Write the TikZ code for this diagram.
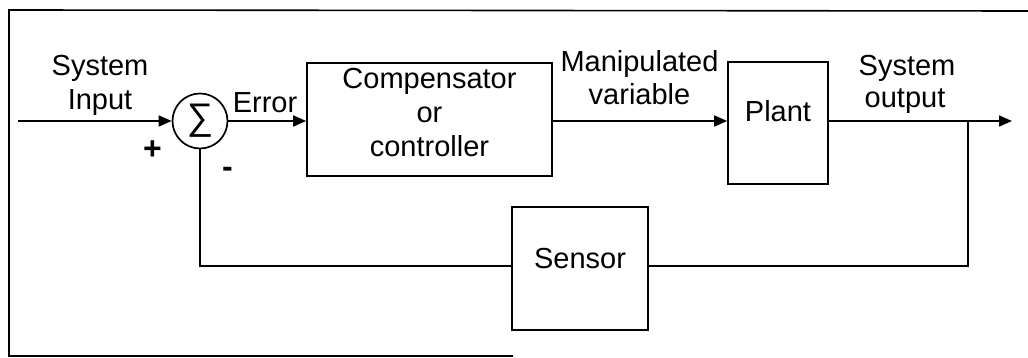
\documentclass[tikz,border=0pt]{standalone}
\usepackage{fontspec}
\setmainfont{Liberation Sans}
\usetikzlibrary{arrows.meta}
\tikzset{
  wire/.style={line width=1.7pt},
  sig/.style={wire, -{Triangle[length=13pt,width=11pt]}},
  blk/.style={draw, line width=1.7pt, inner sep=0pt},
  lbl/.style={anchor=base, inner sep=0pt, font=\fontsize{29}{34}\selectfont},
  sgn/.style={inner sep=0pt, font=\fontsize{32}{36}\selectfont\bfseries},
}
\begin{document}
\begin{tikzpicture}[x=1pt, y=-1pt]
  \useasboundingbox (0,0) rectangle (1028,358);

  % outer frame (its right side runs off the page)
  \draw[line width=1.6pt] (1030,11) -- (9,10) -- (9,356) -- (513,356);

  % blocks
  \node[blk, circle, minimum size=55pt] (sum) at (200,121) {};
  \node[inner sep=0pt, font=\fontsize{37}{40}\selectfont] (sigma) at (200,121) {∑};
  \node[blk, minimum width=245pt, minimum height=113pt] (comp) at (429.5,119.5) {};
  \node[blk, minimum width=100pt, minimum height=122pt] (plant) at (778,123) {};
  \node[blk, minimum width=136pt, minimum height=123pt] (sensor) at (580,268.5) {};

  % signal levels and free ends
  \coordinate (src) at (18,121);
  \coordinate (fb)  at (0,266);
  \coordinate (br)  at (968,121);
  \coordinate (out) at (1012,121);

  % forward path
  \draw[sig] (src) -- (sum.west);
  \draw[sig] (sum.east) -- (comp.west |- sum.east);
  \draw[sig] (comp.east |- sum.east) -- (plant.west |- sum.east);
  \draw[sig] (plant.east |- sum.east) -- (out);

  % feedback path
  \draw[wire] (br) |- (sensor.east |- fb);
  \draw[wire] (sensor.west |- fb) -| (sum.south);

  % labels
  \node[lbl] (in1) at (100,76) {System};
  \node[lbl] (in2) at (100,110) {Input};
  \node[lbl] (err) at (265,113) {Error};
  \node[lbl] (c1) at (429.5,89) {Compensator};
  \node[lbl] (c2) at (429.5,123) {or};
  \node[lbl] (c3) at (429.5,157) {controller};
  \node[lbl] (m1) at (639.5,72) {Manipulated};
  \node[lbl] (m2) at (639.5,105) {variable};
  \node[lbl] (pl) at (778,122) {Plant};
  \node[lbl] (o1) at (907,76) {System};
  \node[lbl] (o2) at (905,108) {output};
  \node[lbl] (se) at (580,268) {Sensor};
  \node[sgn] (plus) at (152.5,150) {+};
  \node[sgn] (minus) at (227.5,172.5) {-};
\end{tikzpicture}
\end{document}
